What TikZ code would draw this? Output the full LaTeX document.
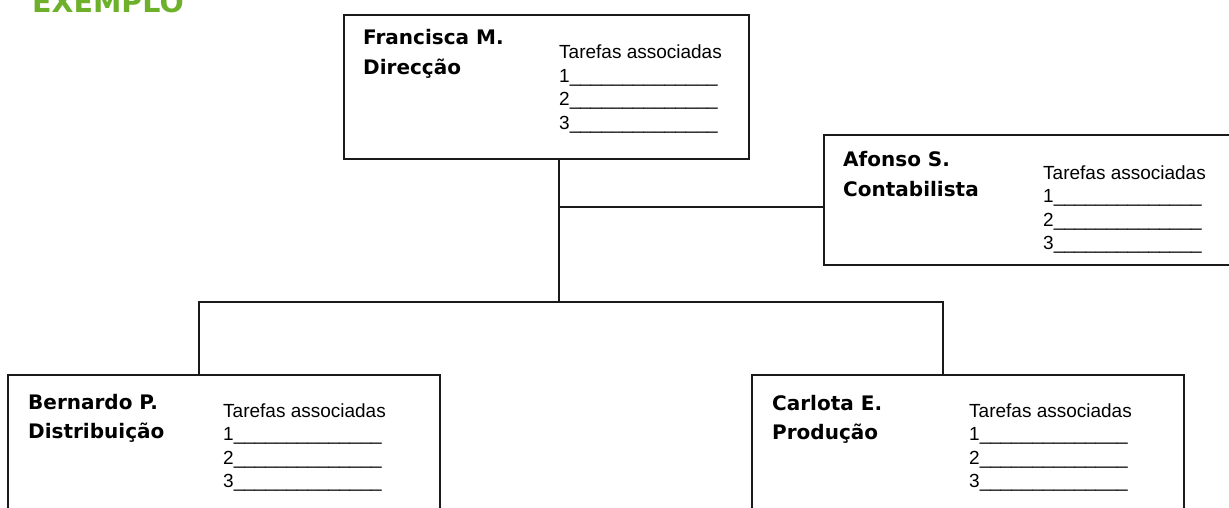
\documentclass[tikz,border=0pt]{standalone}
\usepackage{fontspec}
\setmainfont{Liberation Sans}
\newfontfamily\namefont{DejaVu Sans}
\definecolor{verde}{HTML}{6DB12B}
\definecolor{linecol}{HTML}{1A1A1A}
\newcommand{\traco}{\_\_\_\_\_\_\_\_\_\_\_\_\_\_}
\newcommand{\duaslinhas}[2]{\vtop{\hbox{#1}\hbox{#2}}}
\newcommand{\tarefaslista}{\vtop{\hbox{Tarefas associadas}\hbox{1\traco}\hbox{2\traco}\hbox{3\traco}}}
\begin{document}
\begin{tikzpicture}[x=1pt,y=-1pt,
  caixa/.style={draw=linecol, line width=1.6pt, rectangle, anchor=north west, inner sep=0pt},
  conector/.style={draw=linecol, line width=1.6pt},
  nome/.style={anchor=base west, inner sep=0pt, text=black, font=\namefont\bfseries\fontsize{20}{29.5}\selectfont},
  lista/.style={anchor=base west, inner sep=0pt, text=black, font=\fontsize{19}{23.5}\selectfont}]
\useasboundingbox (0,0) rectangle (1229,508);
\clip (0,0) rectangle (1229,508);
\fill[white] (0,0) rectangle (1229,508);

\node[anchor=base west, inner sep=0pt, text=verde, font=\namefont\bfseries\fontsize{28.5}{30}\selectfont] (exemplo) at (32,13) {EXEMPLO};

% boxes
\node[caixa, minimum width=405pt, minimum height=144pt] (topo) at (343,14) {};
\node[caixa, minimum width=432pt, minimum height=130pt] (afonso) at (823,134) {};
\node[caixa, minimum width=432pt, minimum height=170pt] (bern) at (7,374) {};
\node[caixa, minimum width=432pt, minimum height=170pt] (carl) at (751,374) {};

% texts
\node[nome] (topoNome) at (363,45) {\duaslinhas{Francisca M.}{Direcção}};
\node[lista] (topoLista) at (559,59) {\tarefaslista};
\node[nome] (afonsoNome) at (843,167) {\duaslinhas{Afonso S.}{Contabilista}};
\node[lista] (afonsoLista) at (1043,179) {\tarefaslista};
\node[nome] (bernNome) at (28,409) {\duaslinhas{Bernardo P.}{Distribuição}};
\node[lista] (bernLista) at (223,417) {\tarefaslista};
\node[nome] (carlNome) at (772,410) {\duaslinhas{Carlota E.}{Produção}};
\node[lista] (carlLista) at (969,417) {\tarefaslista};

% connectors
\coordinate (hub) at (559,302);
\coordinate (ramo) at (559,207);
\coordinate (esq) at (199,302);
\coordinate (dir) at (943,302);
\draw[conector] (hub |- topo.south) -- (hub);
\draw[conector] (ramo) -- (ramo -| afonso.west);
\draw[conector] (esq |- bern.north) -- (esq) -- (dir) -- (dir |- carl.north);
\end{tikzpicture}
\end{document}
